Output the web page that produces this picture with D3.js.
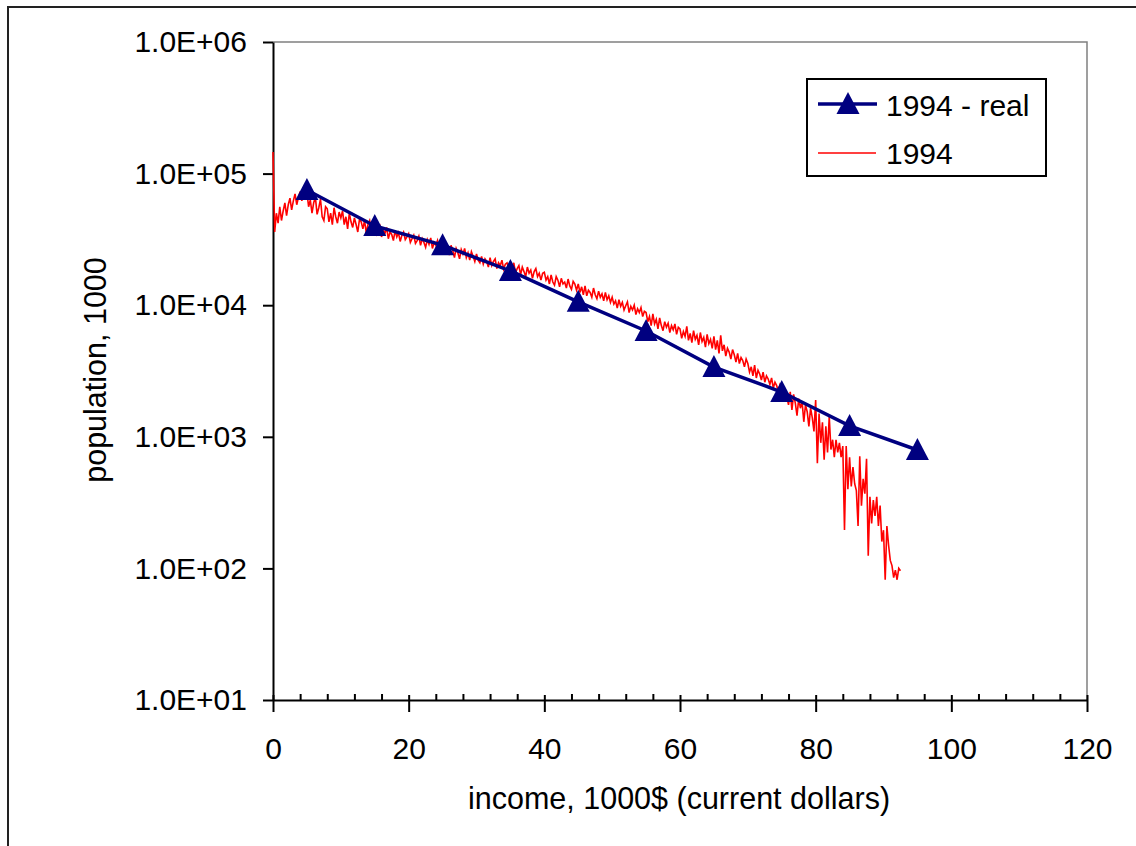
<!DOCTYPE html>
<html>
<head>
<meta charset="utf-8">
<script src="https://cdn.jsdelivr.net/npm/d3@7/dist/d3.min.js"></script>
<style>
  html, body { margin: 0; padding: 0; background: #fff; }
  svg { display: block; }
  text { font-family: Arial, "Liberation Sans", sans-serif; fill: #000; }
</style>
</head>
<body>
<svg id="chart" width="1136" height="846"></svg>
<script>
// ---- data ----
const realIncome = [5, 15, 25, 35, 45, 55, 65, 75, 85, 95];
const realPop = [75000, 40000, 28600, 18200, 10600, 6370, 3390, 2190, 1210, 794];

const modelStep = 0.25; // income bin width, 1000$
const modelPop = [
  146000, 36000, 50000, 42000, 56000, 44000, 52000, 60000, 48000, 58000, 65000, 53000, 62000, 70000, 58000, 66000, 73000, 62000, 70000, 76000,
  72000, 56000, 63000, 50000, 60000, 66000, 49000, 55000, 64000, 47000, 44000, 56000, 54000, 43000, 50000, 41000, 55000, 47000, 42000, 51000,
  46000, 52000, 41000, 47000, 38000, 50000, 43000, 39000, 46000, 41000, 36000, 45000, 43000, 38000, 44000, 35500, 41000, 44000, 37000, 40000,
  42000, 35000, 38000, 40000, 33000, 37500, 35000, 39000, 32000, 36000, 34500, 31000, 37000, 33000, 35500, 30500, 34000, 36000, 31500, 33000,
  35000, 30000, 32000, 34000, 29500, 31000, 33500, 28500, 32000, 30000, 27500, 31500, 29000, 32500, 27000, 30000, 28500, 31000, 26500, 29000,
  28000, 30000, 25500, 27500, 24000, 28500, 26000, 23000, 27000, 25000, 22500, 26500, 24500, 27000, 23000, 25000, 22000, 25500, 23500, 21500,
  24500, 22000, 21000, 23500, 20500, 22500, 21500, 19500, 23000, 20000, 21500, 22500, 19000, 21000, 20000, 22000, 18800, 20500, 21000, 19000,
  20500, 18500, 21000, 17500, 19000, 20000, 17000, 19500, 18000, 16500, 19500, 17500, 18500, 16000, 18000, 19000, 16500, 17500, 15500, 17500,
  17800, 15500, 16500, 14500, 17000, 15000, 14200, 16500, 15500, 13800, 16000, 14500, 15000, 13500, 15800, 14000, 13200, 15200, 14500, 13000,
  14500, 12500, 13800, 12000, 14000, 11800, 13000, 12500, 11500, 13500, 12000, 11200, 12800, 11500, 12200, 10800, 12500, 11000, 11800, 10500,
  11500, 10200, 10800, 9500, 11000, 9800, 10500, 9200, 9900, 10600, 8800, 9800, 9200, 10000, 8500, 9400, 8800, 9600, 8200, 9000,
  8800, 7500, 8200, 7000, 8600, 7200, 7800, 6600, 8000, 7000, 6400, 7500, 6800, 7300, 6200, 7000, 6500, 7200, 6000, 6800,
  6600, 5600, 6300, 5800, 6900, 5400, 6100, 5200, 6400, 5500, 5900, 5000, 6200, 5300, 5700, 4800, 6000, 5100, 5500, 4700,
  5800, 4600, 5400, 4300, 5900, 4500, 5000, 4100, 4700, 4400, 3900, 4600, 4200, 3700, 4300, 3600, 4000, 3800, 3400, 3900,
  3600, 3100, 3400, 2900, 3500, 2800, 3200, 3000, 2700, 3100, 2600, 2900, 2750, 2500, 2800, 2350, 2600, 2450, 2200, 2500,
  2400, 1900, 2300, 2000, 1750, 2200, 1600, 2100, 1800, 1450, 1950, 1650, 1850, 1300, 1750, 1550, 1200, 1650, 1400, 1100,
  1900, 630, 1500, 900, 1290, 670, 1200, 760, 1420, 800, 950, 700, 950, 760, 900, 700, 850, 196, 850, 400,
  700, 420, 590, 440, 390, 210, 710, 300, 480, 370, 680, 125, 350, 220, 330, 250, 350, 210, 300, 160,
  195, 82, 210, 150, 115, 105, 85, 97, 82, 100, 96
];

const xTicks = [0, 20, 40, 60, 80, 100, 120];
const xMinorTicks = [4, 8, 12, 16, 24, 28, 32, 36, 44, 48, 52, 56, 64, 68, 72, 76, 84, 88, 92, 96, 104, 108, 112, 116];
const yTicks = [1e1, 1e2, 1e3, 1e4, 1e5, 1e6];
const yTickLabels = ["1.0E+01", "1.0E+02", "1.0E+03", "1.0E+04", "1.0E+05", "1.0E+06"];

const seriesNames = ["1994 - real", "1994"];
const xTitle = "income, 1000$ (current dollars)";
const yTitle = "population, 1000";

// ---- layout ----
const svg = d3.select("#chart");
const pLeft = 273, pRight = 1087, pTop = 42, pBottom = 700;
const FS = 30;
const navy = "#000080", red = "#ff0000";

const x = d3.scaleLinear().domain([0, 120]).range([pLeft, pRight]);
const y = d3.scaleLog().domain([10, 1e6]).range([pBottom, pTop]);

// outer chart border
svg.append("rect").attr("x", 8).attr("y", 7).attr("width", 1140).attr("height", 850)
  .attr("fill", "none").attr("stroke", "#222").attr("stroke-width", 2);

// plot-area border (top/right grey)
svg.append("path")
  .attr("d", `M${pLeft},${pTop}H${pRight}V${pBottom}`)
  .attr("fill", "none").attr("stroke", "#808080").attr("stroke-width", 1.5);

// y axis
const yAxis = svg.append("g").attr("transform", `translate(${pLeft},0)`)
  .call(d3.axisLeft(y).tickValues(yTicks).tickSize(10).tickSizeOuter(0).tickPadding(16)
    .tickFormat(d => yTickLabels[yTicks.indexOf(d)]));
yAxis.selectAll("text").style("font-size", FS + "px").attr("fill", "#000");
yAxis.selectAll("line,path").attr("stroke", "#000").attr("stroke-width", 2);

// x axis minor ticks (inside)
const xMinor = svg.append("g").attr("transform", `translate(0,${pBottom})`)
  .call(d3.axisBottom(x).tickValues(xMinorTicks).tickSize(-6).tickSizeOuter(0).tickFormat(""));
xMinor.select(".domain").remove();
xMinor.selectAll("line").attr("stroke", "#000").attr("stroke-width", 2);

// x axis major
const xAxis = svg.append("g").attr("transform", `translate(0,${pBottom})`)
  .call(d3.axisBottom(x).tickValues(xTicks).tickSize(12).tickSizeOuter(0).tickPadding(26).tickFormat(d3.format("d")));
xAxis.selectAll(".tick line").attr("y1", -5);
xAxis.selectAll("text").style("font-size", FS + "px").attr("fill", "#000");
xAxis.selectAll("line,path").attr("stroke", "#000").attr("stroke-width", 2);

// titles
svg.append("text").attr("x", (x(0) + x(120)) / 2 - 1).attr("y", 809)
  .attr("text-anchor", "middle").style("font-size", "30.5px").text(xTitle);
svg.append("text").attr("transform", "translate(106,370) rotate(-90)")
  .attr("text-anchor", "middle").style("font-size", "30.5px").text(yTitle);

// model series (red)
const modelData = modelPop.map((v, i) => [i * modelStep, v]);
svg.append("path").datum(modelData)
  .attr("fill", "none").attr("stroke", red).attr("stroke-width", 1.6)
  .attr("d", d3.line().x(d => x(d[0])).y(d => y(d[1])));

// real series (navy)
const realData = realIncome.map((v, i) => [v, realPop[i]]);
svg.append("path").datum(realData)
  .attr("fill", "none").attr("stroke", navy).attr("stroke-width", 3.5)
  .attr("d", d3.line().x(d => x(d[0])).y(d => y(d[1])));

const tri = (cx, cy) => `M${cx},${cy - 12}L${cx + 11.5},${cy + 10}L${cx - 11.5},${cy + 10}Z`;
svg.append("g").selectAll("path").data(realData).join("path")
  .attr("d", d => tri(x(d[0]), y(d[1])))
  .attr("fill", navy);

// legend
const lg = svg.append("g");
lg.append("rect").attr("x", 807).attr("y", 79).attr("width", 239).attr("height", 97)
  .attr("fill", "#fff").attr("stroke", "#000").attr("stroke-width", 2);
lg.append("line").attr("x1", 818).attr("x2", 877).attr("y1", 104).attr("y2", 104)
  .attr("stroke", navy).attr("stroke-width", 3.5);
lg.append("path").attr("d", tri(848, 104)).attr("fill", navy);
lg.append("text").attr("x", 886).attr("y", 116).style("font-size", FS + "px").text(seriesNames[0]);
lg.append("line").attr("x1", 818).attr("x2", 876).attr("y1", 153).attr("y2", 153)
  .attr("stroke", red).attr("stroke-width", 1.5);
lg.append("text").attr("x", 886).attr("y", 164).style("font-size", FS + "px").text(seriesNames[1]);
</script>
</body>
</html>
